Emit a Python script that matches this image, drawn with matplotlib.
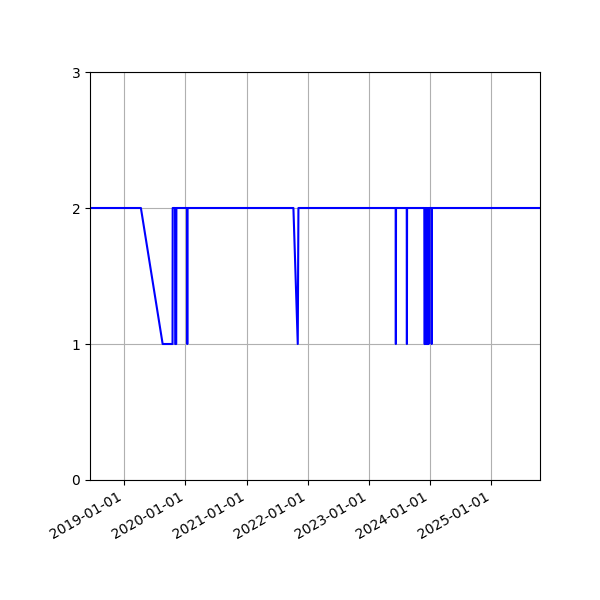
import pandas as pd
import matplotlib
matplotlib.use("Agg")
import matplotlib.pyplot as plt
import matplotlib.dates as mdates

# readings at each date
dates = ["2018-06-10", "2019-04-10", "2019-08-18", "2019-10-16", "2019-10-17",
         "2019-10-31", "2019-11-01", "2019-11-07", "2019-11-08", "2020-01-11",
         "2020-01-12", "2020-01-13", "2021-10-07", "2021-11-02", "2021-11-06",
         "2023-06-10", "2023-06-11", "2023-06-12", "2023-08-15", "2023-08-16",
         "2023-08-17", "2023-11-28", "2023-11-29", "2023-12-02", "2023-12-03",
         "2023-12-06", "2023-12-07", "2023-12-10", "2023-12-11", "2023-12-14",
         "2023-12-15", "2023-12-18", "2023-12-19", "2023-12-22", "2023-12-23",
         "2023-12-26", "2024-01-10", "2024-01-11", "2024-01-12", "2025-10-19"]
values = [2, 2, 1, 1, 2,
          2, 1, 1, 2, 2,
          1, 2, 2, 1, 2,
          2, 1, 2, 2, 1,
          2, 2, 1, 1, 2,
          2, 1, 1, 2, 2,
          1, 1, 2, 2, 1,
          2, 2, 1, 2, 2]

x = pd.to_datetime(dates)

fig, ax = plt.subplots(figsize=(6, 6), dpi=100)
fig.subplots_adjust(left=0.15, right=0.9, top=0.88)
ax.plot(x, values, color='b', linewidth=1.5)
ax.set_xlim(x[0], x[-1])
ax.set_ylim(0, 3)
ax.set_yticks([0, 1, 2, 3])
ax.xaxis.set_major_locator(mdates.YearLocator())
ax.xaxis.set_major_formatter(mdates.DateFormatter('%Y-%m-%d'))
ax.grid(True)
fig.autofmt_xdate()
fig.savefig("out.png")
